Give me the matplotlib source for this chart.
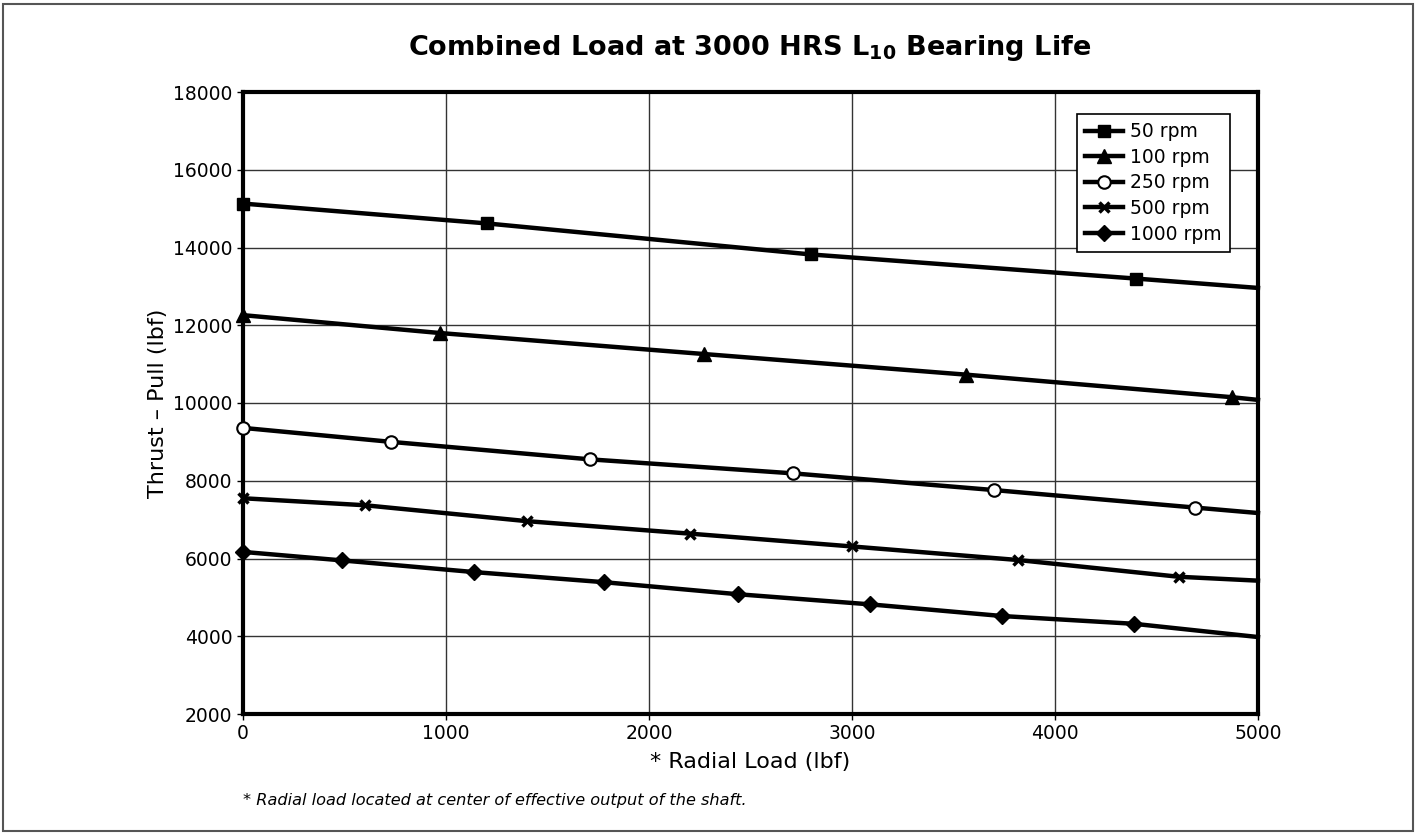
from matplotlib import pyplot as plt
from matplotlib.patches import Rectangle
import numpy as np

# Combined load, 3000 hrs L10 bearing life
END_X = 5000

x_50 = [0, 1200, 2800, 4400, END_X]
y_50 = [15130, 14620, 13820, 13200, 12960]

x_100 = [0, 970, 2270, 3560, 4870, END_X]
y_100 = [12260, 11800, 11260, 10730, 10150, 10080]

x_250 = [0, 730, 1710, 2710, 3700, 4690, END_X]
y_250 = [9360, 9000, 8550, 8190, 7760, 7310, 7170]

x_500 = [0, 600, 1400, 2200, 3000, 3820, 4610, END_X]
y_500 = [7550, 7370, 6960, 6640, 6310, 5960, 5530, 5430]

x_1000 = [0, 490, 1140, 1780, 2440, 3090, 3740, 4390, END_X]
y_1000 = [6170, 5950, 5650, 5390, 5080, 4820, 4520, 4320, 3980]

series = [
    ("50 rpm", x_50, y_50, dict(marker='s', ms=8.5, mfc='black')),
    ("100 rpm", x_100, y_100, dict(marker='^', ms=9.5, mfc='black')),
    ("250 rpm", x_250, y_250, dict(marker='o', ms=9, mfc='white', mew=1.5)),
    ("500 rpm", x_500, y_500, dict(marker='x', ms=7.5, mew=2.5)),
    ("1000 rpm", x_1000, y_1000, dict(marker='D', ms=8.5, mfc='black')),
]

fig = plt.figure(figsize=(14.16, 8.34), dpi=100)
ax = fig.add_axes([243/1416, 1 - 714/834, (1258-243)/1416, (714-92)/834])

for label, xs, ys, style in series:
    # last point (at x = 5000) has no marker
    ax.plot(xs, ys, color='black', lw=3.2, mec='black', label=label,
            markevery=list(range(len(xs) - 1)), clip_on=False, zorder=3, **style)

ax.set_xlim(0, 5000)
ax.set_ylim(2000, 18000)
ax.set_xticks(np.arange(0, 5001, 1000))
ax.set_yticks(np.arange(2000, 18001, 2000))
ax.grid(True, color='#333333', lw=1.0)
ax.tick_params(direction='out', length=4, width=1, labelsize=13.5)
for sp in ax.spines.values():
    sp.set_linewidth(3)

ax.set_xlabel("* Radial Load (lbf)", fontsize=16, labelpad=6)
ax.set_ylabel("Thrust \u2013 Pull (lbf)", fontsize=16, labelpad=4)
fig.text(750/1416, 1 - 48/834, "Combined Load at 3000 HRS L$_{\\mathbf{10}}$ Bearing Life",
         fontsize=19.5, fontweight='bold', ha='center', va='center')

leg = ax.legend(loc='upper right', bbox_to_anchor=(0.982, 0.98), fontsize=13.5,
                frameon=True, fancybox=False, edgecolor='black', framealpha=1,
                handlelength=2.0, labelspacing=0.35, borderpad=0.45, handletextpad=0.4)
leg.get_frame().set_linewidth(1.2)

fig.text(243/1416, 1 - 800/834, "* Radial load located at center of effective output of the shaft.",
         fontsize=11.6, style='italic', va='center', ha='left')

fig.patches.append(Rectangle((0.002, 0.003), 0.996, 0.992, transform=fig.transFigure,
                             fill=False, edgecolor='#555555', lw=1.5))

fig.savefig("out.png", dpi=100)
